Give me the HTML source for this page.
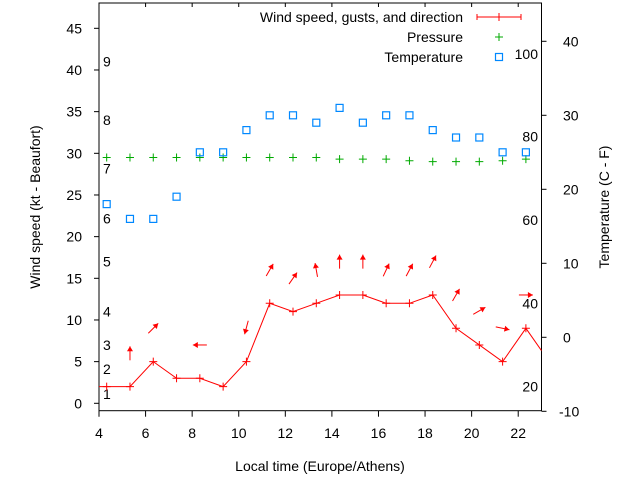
<!DOCTYPE html>
<html><head><meta charset="utf-8"><style>
body{margin:0;background:#fff}
svg{display:block;font-family:"Liberation Sans",sans-serif}
</style></head><body>
<svg id="chart" width="640" height="480" viewBox="0 0 640 480">
<g id="grid"></g>
<g id="marks"></g>
</svg>
<script>
const hours=[3.33,4.33,5.33,6.33,7.33,8.33,9.33,10.33,11.33,12.33,13.33,14.33,15.33,16.33,17.33,18.33,19.33,20.33,21.33,22.33,23.33];
const windSpeed=[2,2,2,5,3,3,2,5,12,11,12,13,13,12,12,13,9,7,5,9,5];
const gustHours=[5.33,6.33,8.33,10.33,11.33,12.33,13.33,14.33,15.33,16.33,17.33,18.33,19.33,20.33,21.33,22.33];
const gustValues=[6,9,7,9.1,16,15,16,17,17,16,16,17,13,11.1,9,13];
const windDirDeg=[90,45,180,-105,60,55,100,90,90,65,62,62,60,30,-12,0];
const tempHours=[4.33,5.33,6.33,7.33,8.33,9.33,10.33,11.33,12.33,13.33,14.33,15.33,16.33,17.33,18.33,19.33,20.33,21.33,22.33];
const tempC=[18,16,16,19,25,25,28,30,30,29,31,29,30,30,28,27,27,25,25];
const pressure=[29.5,29.5,29.5,29.5,29.5,29.5,29.5,29.5,29.5,29.5,29.3,29.3,29.3,29.1,29.0,29.0,29.0,29.1,29.3];
const xTicks=[4,6,8,10,12,14,16,18,20,22];
const yTicks=[0,5,10,15,20,25,30,35,40,45];
const y2Ticks=[-10,0,10,20,30,40];
const beaufortLabels=["1","2","3","4","5","6","7","8","9"];
const beaufortKt=[1.1,4.1,7,11,17,22.2,28.2,34,41];
const fLabels=["20","40","60","80","100"];
const fKt=[2,12,22,32,41.9];

const L=99,R=541.5,T=3,B=410.7;
const X=h=>L+(h-4)*(R-L)/19;
const Y=v=>403.3-v*8.333;
const Y2=t=>337.3-t*7.4;
const NS="http://www.w3.org/2000/svg";
const svg=document.getElementById('chart');
const g=document.getElementById('marks');
function mk(tag,attrs,parent){const e=document.createElementNS(NS,tag);for(const k in attrs)e.setAttribute(k,attrs[k]);(parent||g).appendChild(e);return e;}

// clip
const defs=mk('defs',{},svg);
const cp=mk('clipPath',{id:'clip'},defs);
mk('rect',{x:L,y:T,width:R-L,height:B-T},cp);

// frame
let e=mk('rect',{x:L,y:T,width:R-L,height:B-T,fill:'none',stroke:'#000','stroke-width':1});



xTicks.forEach(t=>{
  const x=X(t);
  e=mk('line',{x1:x,x2:x,y1:B,y2:B+6,stroke:'#000'});
  
  
  mk('line',{x1:x,x2:x,y1:T,y2:T+4,stroke:'#000'});
  e=mk('text',{x:x,y:438,'text-anchor':'middle','font-size':14});
  e.textContent=t;
  
  
});
yTicks.forEach(t=>{
  const y=Y(t);
  e=mk('line',{x1:L-5,x2:L,y1:y,y2:y,stroke:'#000'});
  
  
  e=mk('text',{x:82,y:y+5,'text-anchor':'end','font-size':14});
  e.textContent=t;
  
  
});
y2Ticks.forEach(t=>{
  const y=Y2(t);
  e=mk('line',{x1:R,x2:R+5,y1:y,y2:y,stroke:'#000'});
  
  
  e=mk('text',{x:t<0?559:563,y:y+5,'text-anchor':'start','font-size':14});
  e.textContent=t;
  
  
});
beaufortLabels.forEach((s,i)=>{
  e=mk('text',{x:103,y:Y(beaufortKt[i])+5,'font-size':14});
  e.textContent=s;
  
  
});
fLabels.forEach((s,i)=>{
  e=mk('text',{x:538,y:Y(fKt[i])+5,'text-anchor':'end','font-size':14});
  e.textContent=s;
  
  
});

// axis titles
e=mk('text',{x:320,y:471,'text-anchor':'middle','font-size':14});
e.textContent='Local time (Europe/Athens)';


e=mk('text',{x:0,y:0,'text-anchor':'middle','font-size':14,transform:'translate(40,207) rotate(-90)'});
e.textContent='Wind speed (kt - Beaufort)';


e=mk('text',{x:0,y:0,'text-anchor':'middle','font-size':14,transform:'translate(609,207) rotate(-90)'});
e.textContent='Temperature (C - F)';



const pg=mk('g',{'clip-path':'url(#clip)'});
// wind line
e=mk('polyline',{points:hours.map((h,i)=>X(h)+','+Y(windSpeed[i])).join(' '),fill:'none',stroke:'#f00','stroke-width':1},pg);


hours.forEach((h,i)=>{
  const x=X(h),y=Y(windSpeed[i]);
  e=mk('path',{d:`M${x-4},${y}h8M${x},${y-4}v8`,stroke:'#f00','stroke-width':1},pg);
  
  
});
// gust arrows
gustHours.forEach((h,i)=>{
  const cx=X(h),cy=Y(gustValues[i]);const a=windDirDeg[i]*Math.PI/180;
  const dx=Math.cos(a),dy=-Math.sin(a);const len=14;
  const x1=cx-dx*len/2,y1=cy-dy*len/2,x2=cx+dx*len/2,y2=cy+dy*len/2;
  const px=-dy,py=dx;
  const hx=x2-dx*5,hy=y2-dy*5;
  e=mk('g',{},pg);
  
  
  mk('line',{x1:x1,y1:y1,x2:x2,y2:y2,stroke:'#f00','stroke-width':1},e);
  mk('polygon',{points:`${x2},${y2} ${hx+px*3},${hy+py*3} ${hx-px*3},${hy-py*3}`,fill:'#f00'},e);
});
// pressure
tempHours.forEach((h,i)=>{
  const x=X(h),y=Y(pressure[i]);
  e=mk('path',{d:`M${x-4},${y}h8M${x},${y-4}v8`,stroke:'#0a0','stroke-width':1},pg);
  
  
});
// temperature
tempHours.forEach((h,i)=>{
  const x=X(h),y=Y2(tempC[i]);
  e=mk('rect',{x:x-3.5,y:y-3.5,width:7,height:7,fill:'none',stroke:'#08f','stroke-width':1.2},pg);
  
  
});

// legend
const lg=mk('g',{});


const items=[['Wind speed, gusts, and direction','wind'],['Pressure','p'],['Temperature','t']];
items.forEach((it,i)=>{
  const y=17+i*20;
  e=mk('text',{x:463,y:y+5,'text-anchor':'end','font-size':14},lg);
  e.textContent=it[0];
  
  
  if(it[1]==='wind'){mk('path',{d:`M477,${y}h44M477,${y-3}v6M521,${y-3}v6M499,${y-4}v8`,stroke:'#f00'},lg);}
  else if(it[1]==='p'){mk('path',{d:`M495,${y}h8M499,${y-4}v8`,stroke:'#0a0'},lg);}
  else {mk('rect',{x:495.5,y:y-3.5,width:7,height:7,fill:'none',stroke:'#08f','stroke-width':1.2},lg);}
});
</script>
</body></html>
